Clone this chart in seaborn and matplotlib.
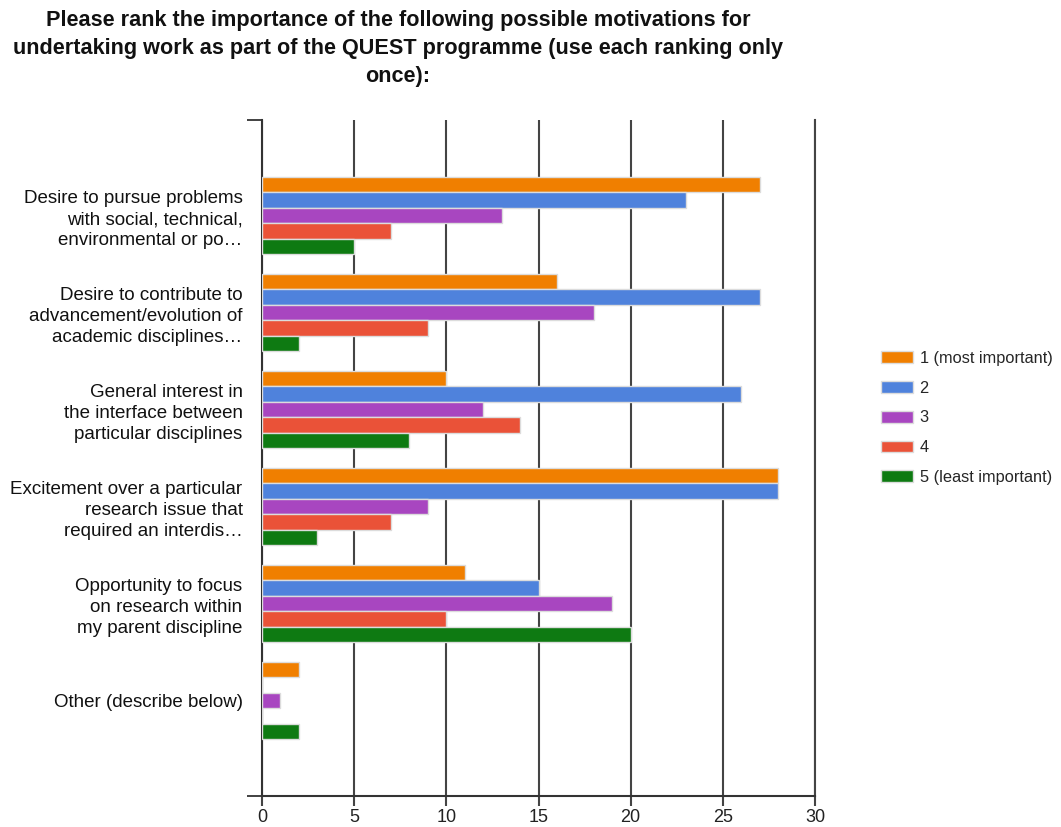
import matplotlib
matplotlib.use("Agg")
import matplotlib.pyplot as plt
import seaborn as sns
import pandas as pd

categories = [
    "Desire to pursue problems\nwith social, technical,\nenvironmental or po\u2026",
    "Desire to contribute to\nadvancement/evolution of\nacademic disciplines\u2026",
    "General interest in\nthe interface between\nparticular disciplines",
    "Excitement over a particular\nresearch issue that\nrequired an interdis\u2026",
    "Opportunity to focus\non research within\nmy parent discipline",
    "Other (describe below)",
]
series_names = ["1 (most important)", "2", "3", "4", "5 (least important)"]
rank1 = [27, 16, 10, 28, 11, 2]
rank2 = [23, 27, 26, 28, 15, 0]
rank3 = [13, 18, 12, 9, 19, 1]
rank4 = [7, 9, 14, 7, 10, 0]
rank5 = [5, 2, 8, 3, 20, 2]
xticks = [0, 5, 10, 15, 20, 25, 30]
colors = ["#f07f00", "#4f82dc", "#a846c0", "#ea5238", "#0e7a12"]
title = ("Please rank the importance of the following possible motivations for\n"
         "undertaking work as part of the QUEST programme (use each ranking only\n"
         "once):")

rows = []
for name, vals in zip(series_names, [rank1, rank2, rank3, rank4, rank5]):
    for c, v in zip(categories, vals):
        rows.append({"category": c, "rank": name, "count": v})
df = pd.DataFrame(rows)

sns.set_theme(style="white")
plt.rcParams["font.family"] = ["Liberation Sans", "DejaVu Sans"]

fig = plt.figure(figsize=(10.61, 8.27), dpi=100)
ax = fig.add_axes([262 / 1061, 1 - 796 / 827, (815 - 262) / 1061, (796 - 120) / 827])

sns.barplot(data=df, y="category", x="count", hue="rank", order=categories,
            hue_order=series_names, palette=colors, orient="h", width=0.8,
            saturation=1, edgecolor="#dcdcdc", linewidth=1, ax=ax, legend=True,
            errorbar=None, zorder=3)

ax.set_xlim(0, 30)
ax.set_ylim(5.985, -0.985)
ax.set_xticks(xticks)
ax.set_xticklabels([str(t) for t in xticks], fontsize=13, color="#222222")
ax.tick_params(axis="y", labelsize=13.5, length=11, width=1.3, color="#333333",
               pad=3, labelcolor="#111111")
ax.set_yticks([-0.985, 5.985], minor=True)
ax.tick_params(axis="y", which="minor", length=11, width=1.3, color="#333333", left=True)
ax.tick_params(axis="x", length=7, width=1.5, color="#444444", bottom=True, pad=2)
for lbl in ax.get_yticklabels():
    lbl.set_linespacing(1.33)
ax.set_xlabel("")
ax.set_ylabel("")
ax.grid(axis="x", color="#444444", linewidth=1.5, zorder=0)
ax.set_axisbelow(True)
ax.spines["top"].set_visible(False)
ax.spines["right"].set_color("#444444")
ax.spines["right"].set_linewidth(1.5)
for s in ["left", "bottom"]:
    ax.spines[s].set_color("#333333")
    ax.spines[s].set_linewidth(1.5)

handles, labels = ax.get_legend_handles_labels()
ax.legend_.remove()
fig.legend(handles, labels, loc="center left",
           bbox_to_anchor=(881 / 1061, 1 - 418 / 827), frameon=False,
           fontsize=11.8, handlelength=1.95, handleheight=0.72,
           labelspacing=0.9, handletextpad=0.4, borderpad=0, borderaxespad=0)

fig.text(398 / 1061, 1 - 10 / 827, title, ha="center", va="top",
         fontsize=15.6, fontweight="bold", linespacing=1.45, color="#111111")

fig.savefig("out.png", dpi=100)
